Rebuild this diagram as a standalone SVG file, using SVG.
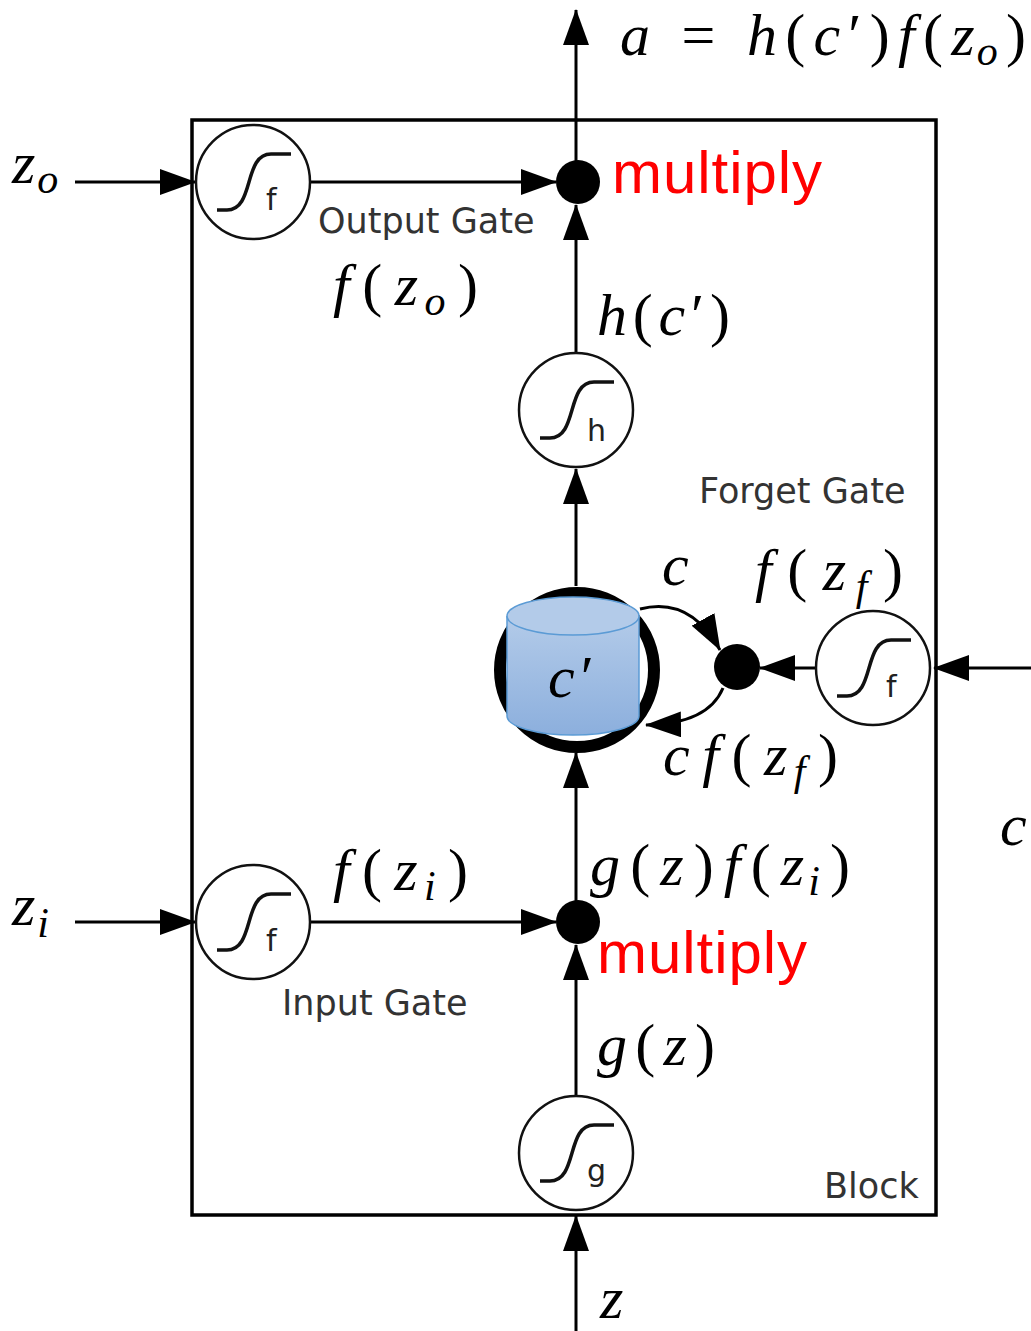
<svg xmlns="http://www.w3.org/2000/svg" xmlns:xlink="http://www.w3.org/1999/xlink" width="1031" height="1331" viewBox="0 0 1031 1331">
<style>
.ln{stroke:#000;stroke-width:3;fill:none}
.arr{marker-end:url(#ah)}
.gate{fill:#fff;stroke:#111;stroke-width:2.5}
.sig{fill:none;stroke:#111;stroke-width:3.5}
.sl{font-family:"DejaVu Sans",sans-serif;font-size:30px;fill:#222}
.lbl{font-family:"DejaVu Sans",sans-serif;font-size:35px;fill:#333}
.m{font-family:"Liberation Serif","DejaVu Serif",serif;font-size:60px;fill:#000}
.i{font-style:italic}
.s{font-size:42px}
.red{font-family:"Liberation Sans",Arial,sans-serif;font-size:60px;fill:#ff0000}
.dot{fill:#000}
</style>
<defs>
<marker id="ah" markerUnits="userSpaceOnUse" markerWidth="36" markerHeight="26" refX="35" refY="13" orient="auto">
<path d="M0,0 L36,13 L0,26 z" fill="#000"/>
</marker>
<g id="sg">
<circle r="57" class="gate"/>
<path class="sig" d="M-36,28 H-26 C-12,28 -8,14 -4,0 C0,-14 4,-28 18,-28 H38"/>
</g>
<linearGradient id="cyl" x1="0" y1="0" x2="0" y2="1">
<stop offset="0" stop-color="#b3cbe9"/>
<stop offset="1" stop-color="#8cafdd"/>
</linearGradient>
</defs>

<g id="block"><rect x="192" y="120" width="744" height="1095" fill="none" stroke="#000" stroke-width="3.5"/>
<text class="lbl" x="824" y="1198">Block</text></g>

<g id="connectors">
<line class="ln arr" x1="576" y1="1331" x2="576" y2="1216"/>
<line class="ln arr" x1="576" y1="1096" x2="576" y2="945"/>
<line class="ln arr" x1="576" y1="922" x2="576" y2="753"/>
<line class="ln arr" x1="576" y1="586" x2="576" y2="469"/>
<line class="ln arr" x1="576" y1="353" x2="576" y2="205"/>
<line class="ln arr" x1="576" y1="182" x2="576" y2="10"/>
<line class="ln arr" x1="75" y1="182" x2="195" y2="182"/>
<line class="ln arr" x1="310" y1="182" x2="556" y2="182"/>
<line class="ln arr" x1="75" y1="922" x2="195" y2="922"/>
<line class="ln arr" x1="310" y1="922" x2="556" y2="922"/>
<line class="ln arr" x1="1031" y1="668" x2="934" y2="668"/>
<line class="ln arr" x1="816" y1="668" x2="760" y2="668"/>
<path class="ln arr" d="M640,609 Q690,596 720,650"/>
<path class="ln arr" d="M723,688 Q708,724 646,725"/>
</g>

<g id="outputGate"><use xlink:href="#sg" x="253" y="182"/><text class="sl" x="266" y="210">f</text>
<text class="lbl" x="318" y="233">Output Gate</text></g>
<g id="outputMultiply"><circle class="dot" cx="578" cy="182" r="22"/>
<text class="red" x="612" y="193" textLength="210">multiply</text></g>
<g id="hNode"><use xlink:href="#sg" x="576" y="410"/><text class="sl" x="587" y="441">h</text></g>
<g id="cell">
<circle cx="577" cy="670" r="77" fill="#fff" stroke="#000" stroke-width="12"/>
<path d="M507,616 V716 A66,19 0 0 0 639,716 V616" fill="url(#cyl)" stroke="#5b9bd5" stroke-width="1.5"/>
<ellipse cx="573" cy="616" rx="66" ry="19" fill="#b3cbe9" stroke="#5b9bd5" stroke-width="1.5"/>
<text class="m" x="548" y="697"><tspan class="i">c</tspan><tspan dx="6">′</tspan></text>
</g>
<g id="forgetMultiply"><circle class="dot" cx="737" cy="667" r="23"/></g>
<g id="forgetGate"><use xlink:href="#sg" x="873" y="668"/><text class="sl" x="886" y="697">f</text>
<text class="lbl" x="699" y="503">Forget Gate</text></g>
<g id="inputGate"><use xlink:href="#sg" x="253" y="922"/><text class="sl" x="266" y="951">f</text>
<text class="lbl" x="282" y="1015">Input Gate</text></g>
<g id="inputMultiply"><circle class="dot" cx="578" cy="922" r="22"/>
<text class="red" x="597" y="973" textLength="210">multiply</text></g>
<g id="gNode"><use xlink:href="#sg" x="576" y="1153"/><text class="sl" x="587" y="1181">g</text></g>

<g id="math">
<text class="m" x="620" y="55" textLength="406"><tspan class="i">a</tspan> = <tspan class="i">h</tspan>(<tspan class="i">c</tspan>′)<tspan class="i">f</tspan>(<tspan class="i">z</tspan><tspan class="i s" dy="10" dx="-6">o</tspan><tspan dy="-10">)</tspan></text>
<text class="m i" x="12" y="183">z<tspan class="s" dy="10" dx="2">o</tspan></text>
<text class="m" x="333" y="305" textLength="145"><tspan class="i">f</tspan>(<tspan class="i">z</tspan><tspan class="i s" dy="10" dx="-6">o</tspan><tspan dy="-10">)</tspan></text>
<text class="m" x="597" y="335" textLength="133"><tspan class="i">h</tspan>(<tspan class="i">c</tspan>′)</text>
<text class="m i" x="662" y="585">c</text>
<text class="m" x="755" y="590" textLength="148"><tspan class="i">f</tspan>(<tspan class="i">z</tspan><tspan class="i s" dy="10" dx="-6">f</tspan><tspan dy="-10">)</tspan></text>
<text class="m" x="663" y="775" textLength="175"><tspan class="i">cf</tspan>(<tspan class="i">z</tspan><tspan class="i s" dy="10" dx="-6">f</tspan><tspan dy="-10">)</tspan></text>
<text class="m i" x="1000" y="845">c</text>
<text class="m" x="333" y="890" textLength="135"><tspan class="i">f</tspan>(<tspan class="i">z</tspan><tspan class="i s" dy="10" dx="-6">i</tspan><tspan dy="-10">)</tspan></text>
<text class="m" x="590" y="885" textLength="260"><tspan class="i">g</tspan>(<tspan class="i">z</tspan>)<tspan class="i">f</tspan>(<tspan class="i">z</tspan><tspan class="i s" dy="10" dx="-6">i</tspan><tspan dy="-10">)</tspan></text>
<text class="m i" x="12" y="925">z<tspan class="s" dy="12" dx="2">i</tspan></text>
<text class="m" x="597" y="1065" textLength="118"><tspan class="i">g</tspan>(<tspan class="i">z</tspan>)</text>
<text class="m i" x="600" y="1318">z</text>
</g>
</svg>
